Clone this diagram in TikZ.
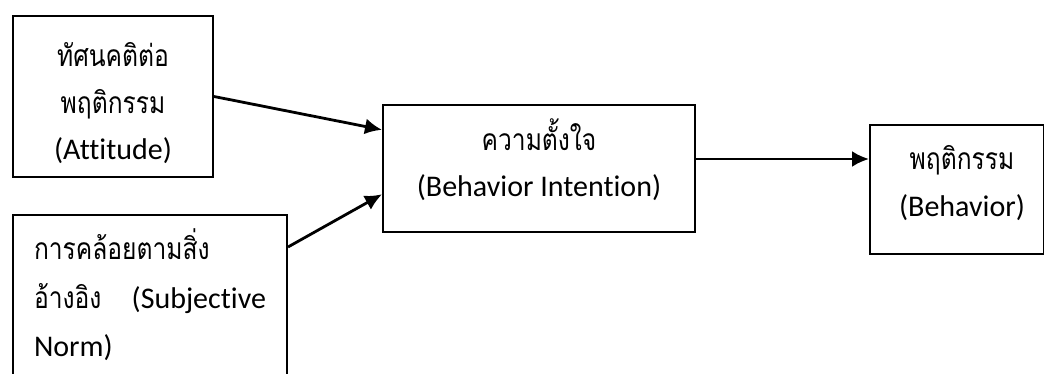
\documentclass[tikz,border=0pt]{standalone}
\usepackage{fontspec}
\setmainfont{Carlito}[Ligatures=NoCommon]
\newfontfamily\thaifont[Script=Thai, FakeStretch=0.82]{Loma}
\usetikzlibrary{calc,arrows.meta}
\tikzset{
	box/.style={draw, line width=1pt, inner sep=0pt, align=center, anchor=north west, font=\fontsize{15}{23.5}\selectfont},
	link/.style={line width=1.4pt, -{Latex[length=8.5pt,width=8pt]}}
}

\begin{document}
\begin{tikzpicture}[x=0.5pt, y=-0.5pt]
		%%%%% START %%%%%
		\useasboundingbox (0, 0) rectangle (1044, 374);
		
		\node[box, minimum width=100pt, minimum height=80.5pt, text height=67.5pt, text depth=4pt] (attitude) at (12, 15) {{\thaifont ทัศนคติต่อ}\\{\thaifont พฤติกรรม}\\(Attitude)};
		
		\node[box, minimum width=137pt, minimum height=90pt] (norm) at (12, 214) {};
		\node[box, draw=none, align=left, text width=116pt, anchor=base west, font=\fontsize{15}{24.5}\selectfont] (normtext) at (33, 259) {{\thaifont การคล้อยตามสิ่ง}\\{\thaifont อ้างอิง}\hfill(Subjective\\Norm)};
		
		\node[box, minimum width=156pt, minimum height=63.5pt, text height=32.5pt, text depth=4pt] (intention) at (382, 104) {{\thaifont ความตั้งใจ}\\(Behavior Intention)};
		
		\node[box, minimum width=87pt, minimum height=64.5pt, text height=30.5pt, text depth=4pt] (behavior) at (869, 124) {\hspace*{5pt}{\thaifont พฤติกรรม}\\\hspace*{5pt}(Behavior)};
		
		\draw[link] (attitude.east) -- ($(intention.north west)!0.2!(intention.south west)$);
		\draw[link] ($(norm.north east)+(0, 33)$) -- ($(intention.north west)!0.7!(intention.south west)$);
		\draw[link] ($(intention.north east)+(0, 55)$) coordinate (out) -- (out -| behavior.west);
		
		%%%%% END %%%%%
	\end{tikzpicture}
\end{document}
